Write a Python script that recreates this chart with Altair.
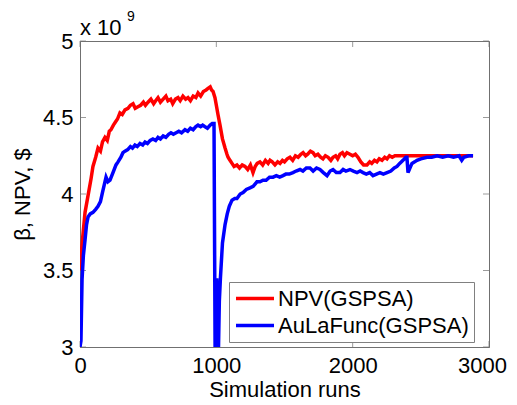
import altair as alt
import pandas as pd

# ---------------- data ----------------
series_names = ["NPV(GSPSA)", "AuLaFunc(GSPSA)"]
series_colors = ["#ff0000", "#0000ff"]

npv_runs = [0, 7, 20, 37, 55, 81, 95, 115, 132, 150, 165, 183, 200, 215, 227, 245, 260, 275, 293, 310,
            330, 352, 370, 389, 405, 425, 445, 465, 480, 499, 520, 540, 555, 572, 590, 610, 630, 645, 665, 680,
            700, 719, 735, 755, 775, 792, 810, 830, 850, 866, 885, 905, 925, 939, 955, 965, 976, 990, 1000, 1012,
            1027, 1045, 1064, 1078, 1086, 1100, 1115, 1130, 1151, 1170, 1190, 1210, 1230, 1250, 1269, 1285, 1300, 1320, 1340, 1360,
            1380, 1394, 1410, 1430, 1450, 1467, 1485, 1500, 1520, 1540, 1560, 1580, 1600, 1620, 1636, 1655, 1670, 1690, 1709, 1725,
            1745, 1765, 1782, 1800, 1820, 1840, 1856, 1875, 1890, 1907, 1925, 1940, 1958, 1980, 2000, 2020, 2039, 2060, 2080, 2105,
            2125, 2140, 2160, 2178, 2195, 2215, 2235, 2252, 2270, 2290, 2310, 2325, 2340, 2883]
npv_vals = [3.50, 3.59, 3.72, 3.88, 3.97, 4.10, 4.18, 4.24, 4.30, 4.28, 4.34, 4.37, 4.35, 4.41, 4.42, 4.45, 4.47, 4.49, 4.53, 4.52,
            4.55, 4.56, 4.58, 4.59, 4.56, 4.57, 4.58, 4.60, 4.58, 4.60, 4.62, 4.59, 4.61, 4.63, 4.60, 4.62, 4.64, 4.61, 4.62, 4.59,
            4.62, 4.63, 4.61, 4.64, 4.62, 4.63, 4.61, 4.64, 4.63, 4.66, 4.64, 4.67, 4.68, 4.69, 4.70, 4.68, 4.67, 4.63, 4.58, 4.52,
            4.45, 4.36, 4.30, 4.26, 4.24, 4.22, 4.20, 4.18, 4.19, 4.17, 4.19, 4.18, 4.16, 4.19, 4.14, 4.18, 4.20, 4.21, 4.19, 4.22,
            4.20, 4.22, 4.21, 4.19, 4.21, 4.20, 4.22, 4.21, 4.23, 4.24, 4.22, 4.25, 4.24, 4.26, 4.27, 4.25, 4.26, 4.28, 4.27, 4.25,
            4.26, 4.24, 4.23, 4.25, 4.24, 4.22, 4.24, 4.25, 4.23, 4.26, 4.27, 4.25, 4.27, 4.26, 4.25, 4.26, 4.24, 4.21, 4.19, 4.19,
            4.21, 4.20, 4.22, 4.21, 4.23, 4.22, 4.24, 4.23, 4.25, 4.24, 4.25, 4.25, 4.25, 4.25]

aula_runs = [0, 7, 15, 25, 37, 48, 59, 75, 95, 115, 132, 150, 165, 191, 205, 220, 242, 264, 279, 300,
             315, 330, 350, 370, 385, 403, 420, 440, 460, 477, 495, 515, 535, 555, 572, 590, 610, 630, 650, 667,
             685, 705, 725, 745, 770, 790, 810, 830, 850, 866, 885, 900, 917, 935, 955, 970, 983, 992, 1003, 1012,
             1022, 1030, 1045, 1064, 1080, 1095, 1115, 1135, 1151, 1175, 1196, 1220, 1247, 1270, 1298, 1320, 1342, 1365, 1390, 1416,
             1440, 1465, 1489, 1510, 1535, 1562, 1585, 1614, 1635, 1660, 1687, 1710, 1735, 1760, 1785, 1812, 1835, 1856, 1880, 1907,
             1930, 1950, 1980, 2005, 2032, 2055, 2076, 2100, 2125, 2149, 2175, 2200, 2225, 2252, 2280, 2305, 2325, 2345, 2369, 2390,
             2398, 2406, 2420, 2435, 2455, 2472, 2500, 2545, 2580, 2620, 2660, 2700, 2740, 2780, 2800, 2815, 2850, 2883]
aula_vals = [3.00, 3.04, 3.44, 3.60, 3.70, 3.80, 3.85, 3.87, 3.88, 3.90, 3.92, 3.95, 4.01, 4.11, 4.08, 4.09, 4.14, 4.19, 4.21, 4.24,
             4.27, 4.28, 4.29, 4.31, 4.30, 4.32, 4.31, 4.33, 4.32, 4.34, 4.33, 4.35, 4.36, 4.35, 4.37, 4.36, 4.38, 4.37, 4.39, 4.40,
             4.39, 4.40, 4.41, 4.40, 4.42, 4.41, 4.43, 4.42, 4.44, 4.45, 4.44, 4.45, 4.44, 4.43, 4.45, 4.46, 4.46, 2.80, 3.45, 2.80,
             3.30, 3.45, 3.68, 3.80, 3.87, 3.92, 3.96, 3.97, 3.97, 4.00, 4.01, 4.03, 4.04, 4.05, 4.08, 4.08, 4.09, 4.09, 4.11, 4.11,
             4.12, 4.11, 4.12, 4.13, 4.13, 4.14, 4.15, 4.16, 4.15, 4.17, 4.17, 4.15, 4.17, 4.16, 4.14, 4.12, 4.15, 4.16, 4.14, 4.14,
             4.16, 4.15, 4.16, 4.15, 4.14, 4.15, 4.14, 4.13, 4.14, 4.12, 4.13, 4.14, 4.13, 4.14, 4.15, 4.17, 4.18, 4.20, 4.22, 4.24,
             4.24, 4.14, 4.17, 4.20, 4.21, 4.22, 4.23, 4.24, 4.24, 4.25, 4.24, 4.25, 4.24, 4.25, 4.22, 4.24, 4.25, 4.25]

x_ticks = [0, 1000, 2000, 3000]
y_ticks = [3, 3.5, 4, 4.5, 5]
exponent_base = ["x 10"]
exponent_power = ["9"]

# ---------------- chart ----------------
FONT = "Liberation Sans"
W, H = 409, 306

npv_df = pd.DataFrame({"run": npv_runs, "value": npv_vals, "series": series_names[0]})
aula_df = pd.DataFrame({"run": aula_runs, "value": aula_vals, "series": series_names[1]})

xscale = alt.Scale(domain=[0, 3000], nice=False, zero=False)
yscale = alt.Scale(domain=[3, 5], nice=False, zero=False)
cscale = alt.Scale(domain=series_names, range=series_colors)

xaxis = alt.Axis(values=x_ticks, title="Simulation runs", grid=False, tickSize=0,
                 labelFlush=False, labelOverlap=False, labelPadding=8,
                 titleX=W / 2, titleY=49, titleAlign="center", titleBaseline="alphabetic",
                 format="d",
                 labelOffset={"condition": {"test": "datum.value === 3000", "value": -7}, "value": 0})
yaxis = alt.Axis(values=y_ticks, title="β, NPV, $", grid=False, tickSize=0,
                 labelFlush=False, labelOverlap=False, labelPadding=7, format="~g",
                 titleX=-58, titleY=H / 2, titleAngle=-90, titleAlign="center",
                 titleBaseline="middle")

legend = alt.Legend(title=None, orient="none", legendX=149, legendY=241,
                    symbolType="M-1,0H3", symbolSize=361, symbolStrokeWidth=3.5,
                    labelFont=FONT, labelFontSize=22, labelColor="black", labelOffset=21,
                    labelLimit=400,
                    strokeColor="#808080", fillColor="white", padding=5, rowPadding=4)

def line_layer(df):
    return alt.Chart(df).mark_line(strokeWidth=3.5, clip=True).encode(
        x=alt.X("run:Q", scale=xscale, axis=xaxis),
        y=alt.Y("value:Q", scale=yscale, axis=yaxis),
        color=alt.Color("series:N", scale=cscale, legend=legend, sort=series_names),
    )

xt = pd.DataFrame({"t": x_ticks})
yt = pd.DataFrame({"t": y_ticks})
tick_color = "#707070"
xtick_bottom = alt.Chart(xt).mark_tick(orient="vertical", size=6, thickness=1, color=tick_color).encode(
    x=alt.X("t:Q", scale=xscale), y=alt.value(H - 3))
xtick_top = alt.Chart(xt).mark_tick(orient="vertical", size=6, thickness=1, color=tick_color).encode(
    x=alt.X("t:Q", scale=xscale), y=alt.value(3))
ytick_left = alt.Chart(yt).mark_tick(orient="horizontal", size=6, thickness=1, color=tick_color).encode(
    y=alt.Y("t:Q", scale=yscale), x=alt.value(3))
ytick_right = alt.Chart(yt).mark_tick(orient="horizontal", size=6, thickness=1, color=tick_color).encode(
    y=alt.Y("t:Q", scale=yscale), x=alt.value(W - 3))

exp_base = alt.Chart(pd.DataFrame({"t": exponent_base})).mark_text(
    font=FONT, fontSize=22, align="left", baseline="alphabetic", color="black").encode(
    text="t:N", x=alt.value(0), y=alt.value(-6))
exp_pow = alt.Chart(pd.DataFrame({"t": exponent_power})).mark_text(
    font=FONT, fontSize=14, align="left", baseline="alphabetic", color="black").encode(
    text="t:N", x=alt.value(47), y=alt.value(-20))

chart = alt.layer(
    xtick_bottom, xtick_top, ytick_left, ytick_right,
    line_layer(npv_df), line_layer(aula_df),
    exp_base, exp_pow,
).properties(
    width=W, height=H,
    autosize=alt.AutoSizeParams(type="none"),
    padding={"left": 72, "top": 33, "right": 18, "bottom": 50},
    background="white",
).configure_view(
    stroke="#707070", strokeWidth=1
).configure_axis(
    labelFont=FONT, labelFontSize=22, labelColor="black",
    titleFont=FONT, titleFontSize=22, titleColor="black", titleFontWeight="normal",
    domainColor="#707070", domainWidth=1,
)

chart.save("out.html", embed_options={"renderer": "svg", "actions": False})
